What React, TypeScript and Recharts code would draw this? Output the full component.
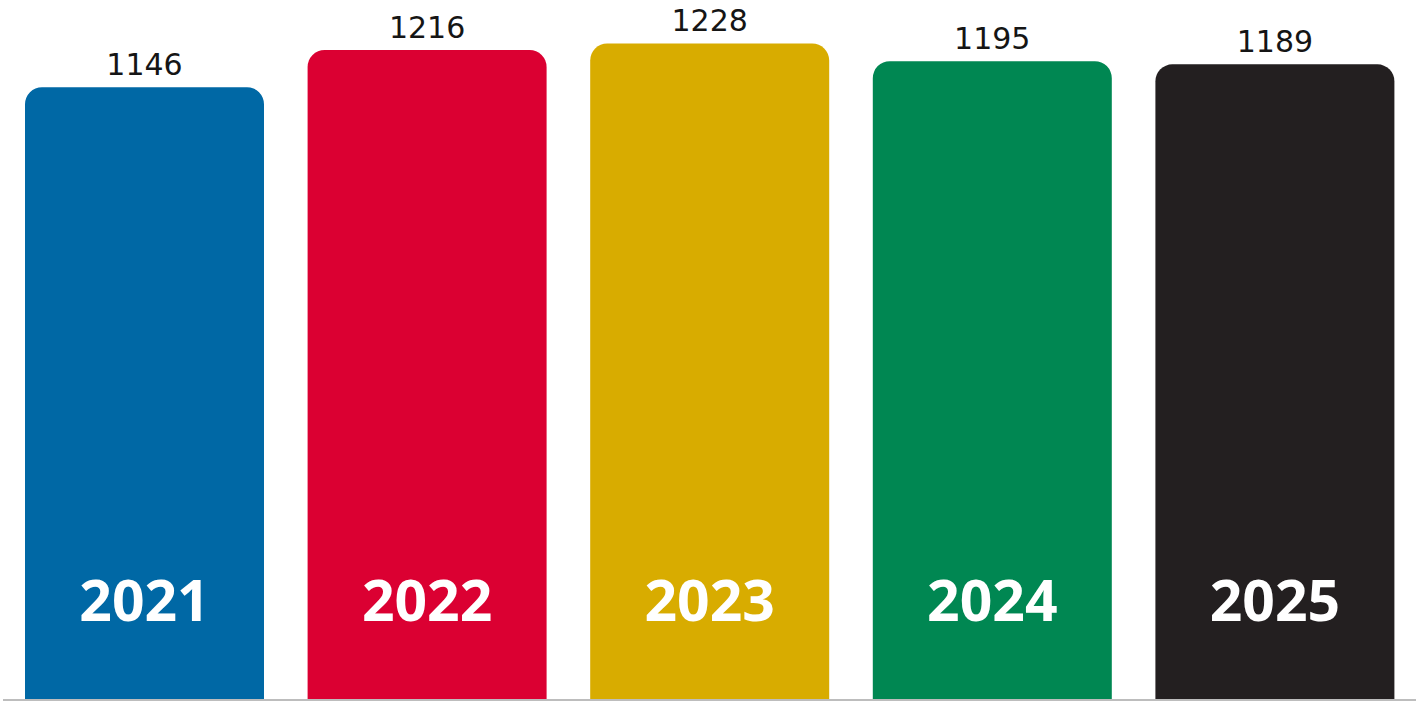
import React from "react";
import { Bar, BarChart, Cell, LabelList, XAxis, YAxis } from "recharts";

const years = ["2021", "2022", "2023", "2024", "2025"];
const counts = [1146, 1216, 1228, 1195, 1189];
const barColors = ["#0068a5", "#db0032", "#d8ac00", "#008752", "#231f20"];

const data = years.map((year, i) => ({ year, count: counts[i] }));

export default function App() {
  return (
    <div style={{ position: "absolute", left: 0, top: 0, width: 1423, height: 702, background: "#fff" }}>
      <BarChart width={1423} height={702} data={data} margin={{ top: 5, right: 7, left: 3, bottom: 0 }}>
        <XAxis dataKey="year" tick={false} tickLine={false} height={2} axisLine={{ stroke: "#bdbdbd", strokeWidth: 2 }} />
        <YAxis hide domain={[0, 1300]} />
        <Bar dataKey="count" barSize={239} radius={[17, 17, 0, 0]} isAnimationActive={false}>
          {data.map((d, i) => (
            <Cell key={d.year} fill={barColors[i]} />
          ))}
          <LabelList
            dataKey="count"
            position="top"
            offset={12}
            style={{ fontFamily: "DejaVu Sans", fontSize: 30, fill: "#151515" }}
          />
          <LabelList
            dataKey="year"
            position="insideBottom"
            offset={79}
            style={{ fontFamily: "Open Sans", fontWeight: 700, fontSize: 57, fill: "#ffffff" }}
          />
        </Bar>
      </BarChart>
    </div>
  );
}
